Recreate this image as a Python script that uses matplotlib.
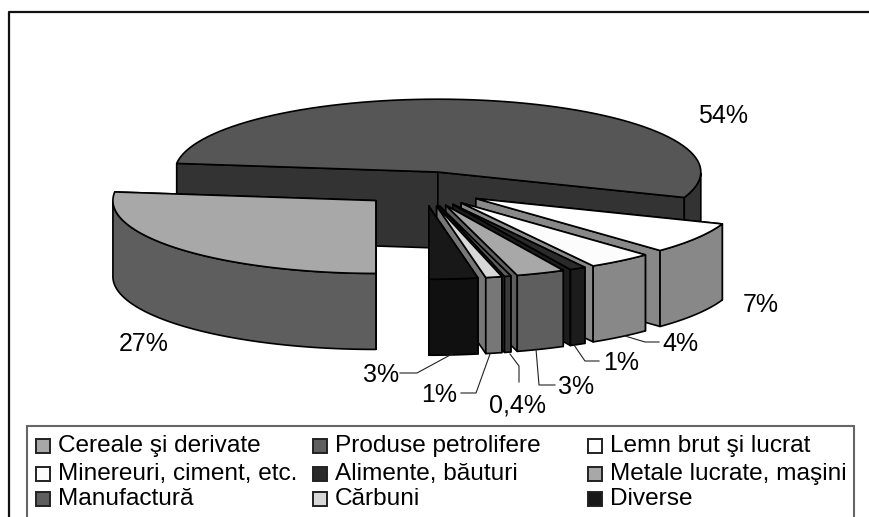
import numpy as np
import matplotlib
matplotlib.use("Agg")
import matplotlib.pyplot as plt
from matplotlib.patches import Polygon, Rectangle

plt.rcParams['font.family'] = ['Liberation Sans', 'DejaVu Sans']

# Data
categories = ['Cereale şi derivate', 'Produse petrolifere', 'Lemn brut şi lucrat',
              'Minereuri, ciment, etc.', 'Alimente, băuturi', 'Metale lucrate, maşini',
              'Manufactură', 'Cărbuni', 'Diverse']
values = [27, 54, 7, 4, 1, 3, 0.4, 1, 3]
value_labels = ['27%', '54%', '7%', '4%', '1%', '3%', '0,4%', '1%', '3%']
top_colors = ['#a8a8a8', '#565656', '#ffffff', '#fcfcfc', '#2a2a2a', '#a8a8a8', '#5e5e5e', '#d8d8d8', '#181818']
side_colors = ['#5e5e5e', '#333333', '#888888', '#888888', '#1c1c1c', '#5e5e5e', '#3a3a3a', '#777777', '#101010']
legend_colors = ['#a8a8a8', '#5e5e5e', '#ffffff', '#fcfcfc', '#2a2a2a', '#a8a8a8', '#5e5e5e', '#d8d8d8', '#181818']

# Label text position, and leader line (None when there is none)
label_pos = [(144, 344), (723, 116), (761, 305), (680, 344), (621, 363), (576, 387), (518, 405), (439, 395), (381, 375)]
leaders = [None, None, None,
           [(625, 336), (645, 342), (659, 342)],
           [(574, 345), (585, 361), (599, 361)],
           [(536, 349), (539, 385), (555, 385)],
           [(510, 354), (519, 366), (519, 382)],
           [(490, 354), (476, 393), (461, 393)],
           [(452, 354), (417, 373), (400, 373)]]

# Pie geometry
cx, cy = 423, 189
rx, squash, depth = 263, 0.277, 76
explode = 63

fig = plt.figure(figsize=(8.69, 5.17), dpi=100)
ax = fig.add_axes([0, 0, 1, 1])
ax.set_xlim(0, 869)
ax.set_ylim(517, 0)
ax.axis('off')

# Chart frame: only top and left edges are in the picture
ax.plot([869, 8.5, 8.5], [11.5, 11.5, 517], color='#111111', lw=1.6)


def pt(o, r, a):
    return (o[0] + r * np.cos(a), o[1] - squash * r * np.sin(a))


# Slices go clockwise from the bottom
fracs = np.array(values) / np.sum(values) * 2 * np.pi
ends = -np.pi / 2 - np.cumsum(fracs)
starts = ends + fracs
mids = (starts + ends) / 2

# Back slices first
for i in np.argsort(-np.sin(mids)):
    e = pt((cx, cy), explode, mids[i])
    s_p = pt(e, rx, starts[i])
    e_p = pt(e, rx, ends[i])
    for p in (s_p, e_p):
        ax.add_patch(Polygon([e, p, (p[0], p[1] + depth), (e[0], e[1] + depth)],
                             fc=side_colors[i], ec='black', lw=1.2, joinstyle='round'))
    arc = np.linspace(starts[i], ends[i], 80)
    front = arc[np.sin(arc) < 0]
    if len(front) > 1:
        rim = [pt(e, rx, a) for a in front]
        low = [(p[0], p[1] + depth) for p in rim[::-1]]
        ax.add_patch(Polygon(rim + low, fc=side_colors[i], ec='black', lw=1.2, joinstyle='round'))
    ax.add_patch(Polygon([e] + [pt(e, rx, a) for a in arc], fc=top_colors[i], ec='black', lw=1.2,
                         joinstyle='round'))

# Value labels and leader lines
for lab, pos, lead in zip(value_labels, label_pos, leaders):
    ax.text(pos[0], pos[1], lab, fontsize=18, ha='center', va='center', color='black')
    if lead:
        ax.plot([p[0] for p in lead], [p[1] for p in lead], color='#222222', lw=0.8)

# Legend box
ax.add_patch(Rectangle((27, 426), 827, 100, fc='white', ec='#666666', lw=1.5))
col_x = [36, 313, 588]
row_y = [452, 480, 505]
for n, name in enumerate(categories):
    x = col_x[n % 3]
    y = row_y[n // 3]
    ax.add_patch(Rectangle((x, y - 13), 13.5, 13.5, fc=legend_colors[n], ec='#222222', lw=1.4))
    ax.text(x + 22, y, name, fontsize=17.6, ha='left', va='baseline', color='black')

fig.savefig('out.png', dpi=100)
